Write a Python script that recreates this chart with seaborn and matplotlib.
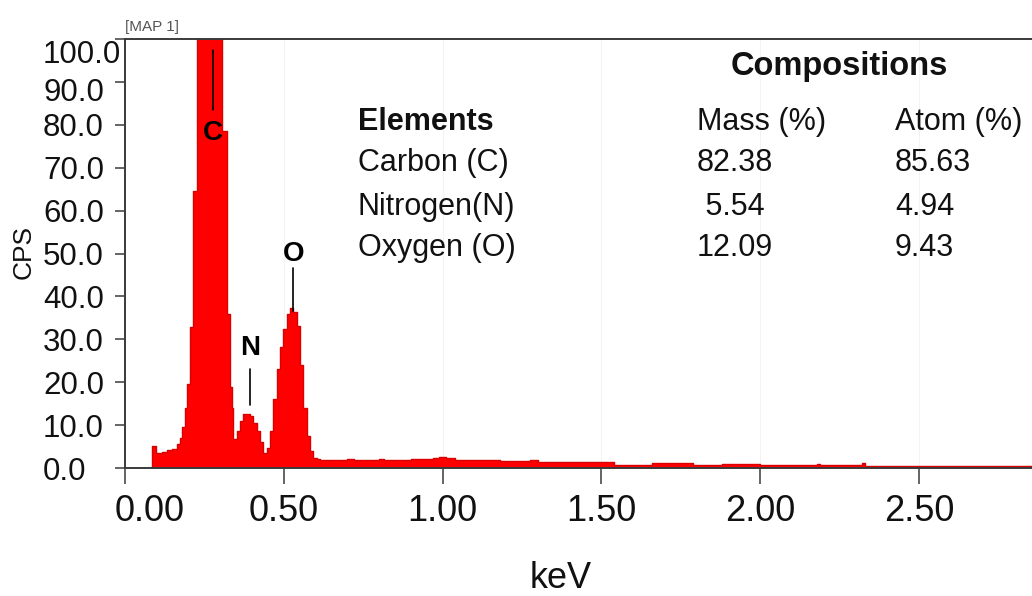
import numpy as np
import pandas as pd
import matplotlib
matplotlib.use("Agg")
import matplotlib.pyplot as plt
import matplotlib.transforms as mtransforms
import seaborn as sns

# ---------------- data ----------------
bin_edges = [0.084, 0.099, 0.115, 0.131, 0.147, 0.163, 0.173, 0.181, 0.189, 0.196,
             0.204, 0.215, 0.226, 0.250, 0.280, 0.304, 0.320, 0.331, 0.336, 0.341,
             0.352, 0.362, 0.373, 0.383, 0.394, 0.404, 0.415, 0.425, 0.436, 0.446,
             0.457, 0.467, 0.478, 0.488, 0.499, 0.509, 0.520, 0.530, 0.541, 0.551,
             0.562, 0.572, 0.583, 0.593, 0.604, 0.614, 0.700, 0.720, 0.800, 0.815,
             0.900, 0.940, 0.970, 0.990, 1.010, 1.040, 1.130, 1.180, 1.275, 1.300,
             1.540, 1.660, 1.790, 1.880, 1.960, 2.000, 2.100, 2.180, 2.190, 2.320,
             2.330, 2.870]
counts = [5.1, 3.6, 3.8, 4.1, 4.4, 5.5, 7.1, 9.5, 14.0, 19.5,
          32.8, 64.6, 125.0, 140.0, 115.0, 78.5, 36.0, 18.8, 14.0, 6.7,
          8.6, 11.0, 12.7, 12.7, 12.2, 10.5, 8.6, 6.0, 3.6, 4.7,
          8.6, 16.0, 23.0, 28.1, 32.5, 36.0, 37.2, 36.3, 33.0, 24.0,
          14.0, 7.5, 4.0, 2.4, 2.2, 1.9, 2.1, 1.9, 2.1, 1.9,
          2.1, 2.0, 2.4, 2.6, 2.3, 1.8, 1.8, 1.6, 1.8, 1.3,
          0.7, 1.2, 0.8, 0.9, 1.0, 0.8, 0.6, 1.0, 0.6, 1.1,
          0.45]

x_ticks = [0.0, 0.5, 1.0, 1.5, 2.0, 2.5]
x_tick_labels = ["0.00", "0.50", "1.00", "1.50", "2.00", "2.50"]
y_ticks = [0, 10, 20, 30, 40, 50, 60, 70, 80, 90, 100]
y_tick_labels = ["0.0", "10.0", "20.0", "30.0", "40.0", "50.0",
                 "60.0", "70.0", "80.0", "90.0", "100.0"]

peak_names = ["C", "N", "O"]
peak_kev = [0.278, 0.394, 0.530]
peak_line_bottom = [83.5, 14.8, 36.5]
peak_line_top = [97.5, 23.0, 46.6]
peak_label_y = [78.0, 27.9, 49.9]

table_title = "Compositions"
table_columns = ["Elements", "Mass (%)", "Atom (%)"]
elements = ["Carbon (C)", "Nitrogen(N)", "Oxygen (O)"]
mass_pct = ["82.38", " 5.54", "12.09"]
atom_pct = ["85.63", "4.94", "9.43"]

# ---------------- figure ----------------
sns.set_theme(style="white")
plt.rcParams["font.family"] = ["Liberation Sans", "DejaVu Sans"]

W, H = 1032, 596
fig = plt.figure(figsize=(W / 100, H / 100), dpi=100)
ax = fig.add_axes([125 / W, 1 - 468 / H, (W - 125) / W, (468 - 39) / H])

edges = np.array(bin_edges)
centers = (edges[:-1] + edges[1:]) / 2
df = pd.DataFrame({"energy": centers, "cps": counts})
sns.histplot(data=df, x="energy", weights="cps", bins=bin_edges, element="step",
             fill=True, color="#ff0000", alpha=1.0, edgecolor="#d80000",
             linewidth=1.0, ax=ax)

ax.set_xlim(0, 2.856)
ax.set_ylim(0, 100)

# spines
spine_col = "#3a3a3a"
for s in ["left", "top", "bottom"]:
    ax.spines[s].set_color(spine_col)
    ax.spines[s].set_linewidth(1.4)
ax.spines["right"].set_visible(False)

ax.grid(axis="x", color="#f3f3f3", linewidth=0.8)
ax.set_axisbelow(True)

# ticks
ax.set_xticks(x_ticks)
ax.set_xticklabels(x_tick_labels)
ax.set_yticks(y_ticks)
ax.set_yticklabels(y_tick_labels)
ax.tick_params(axis="x", direction="out", length=11.5, width=1.1, color=spine_col,
               labelsize=26, pad=7, labelcolor="#111111", bottom=True)
ax.tick_params(axis="y", direction="out", length=7.2, width=1.1, color=spine_col,
               labelsize=22.5, pad=51.8, labelcolor="#111111", left=True)
for lbl in ax.get_yticklabels():
    lbl.set_horizontalalignment("left")

# first x label nudged right, upper y labels nudged down (as in the reference)
xl0 = ax.get_xticklabels()[0]
xl0.set_transform(xl0.get_transform() + mtransforms.ScaledTranslation(25 / 100, 0, fig.dpi_scale_trans))
ylabels = ax.get_yticklabels()
for lbl, dy in zip(ylabels[-2:], [8, 12.5]):
    lbl.set_transform(lbl.get_transform() + mtransforms.ScaledTranslation(0, -dy / 100, fig.dpi_scale_trans))

ax.set_xlabel("")
ax.set_ylabel("")
fig.text(561 / W, 1 - 588 / H, "keV", fontsize=26, ha="center", va="baseline", color="#111111")
fig.text(24 / W, 1 - 252 / H, "CPS", fontsize=19, rotation=90, ha="center", va="center",
         color="#111111")
fig.text(125 / W, 1 - 27 / H, "[MAP 1]", fontsize=11, ha="left", va="center", color="#555555")

# peak markers
for name, xk, yb, yt, yl in zip(peak_names, peak_kev, peak_line_bottom, peak_line_top, peak_label_y):
    ax.plot([xk, xk], [yb, yt], color="black", linewidth=1.2)
    ax.text(xk, yl, name, fontsize=20, fontweight="bold", ha="center", va="center", color="black")

# composition table
fig.text(839 / W, 1 - 67 / H, table_title, fontsize=23.5, fontweight="bold",
         ha="center", va="center", color="#111111")
col_x = [358, 697, 895]
row_y = [122, 163, 207, 248]
for j, col in enumerate(table_columns):
    fig.text(col_x[j] / W, 1 - row_y[0] / H, col, fontsize=22,
             fontweight="bold" if j == 0 else "normal", ha="left", va="center", color="#111111")
for i in range(len(elements)):
    for j, val in enumerate([elements[i], mass_pct[i], atom_pct[i]]):
        fig.text(col_x[j] / W, 1 - row_y[i + 1] / H, val, fontsize=22,
                 ha="left", va="center", color="#111111")

fig.savefig("out.png", dpi=100)
